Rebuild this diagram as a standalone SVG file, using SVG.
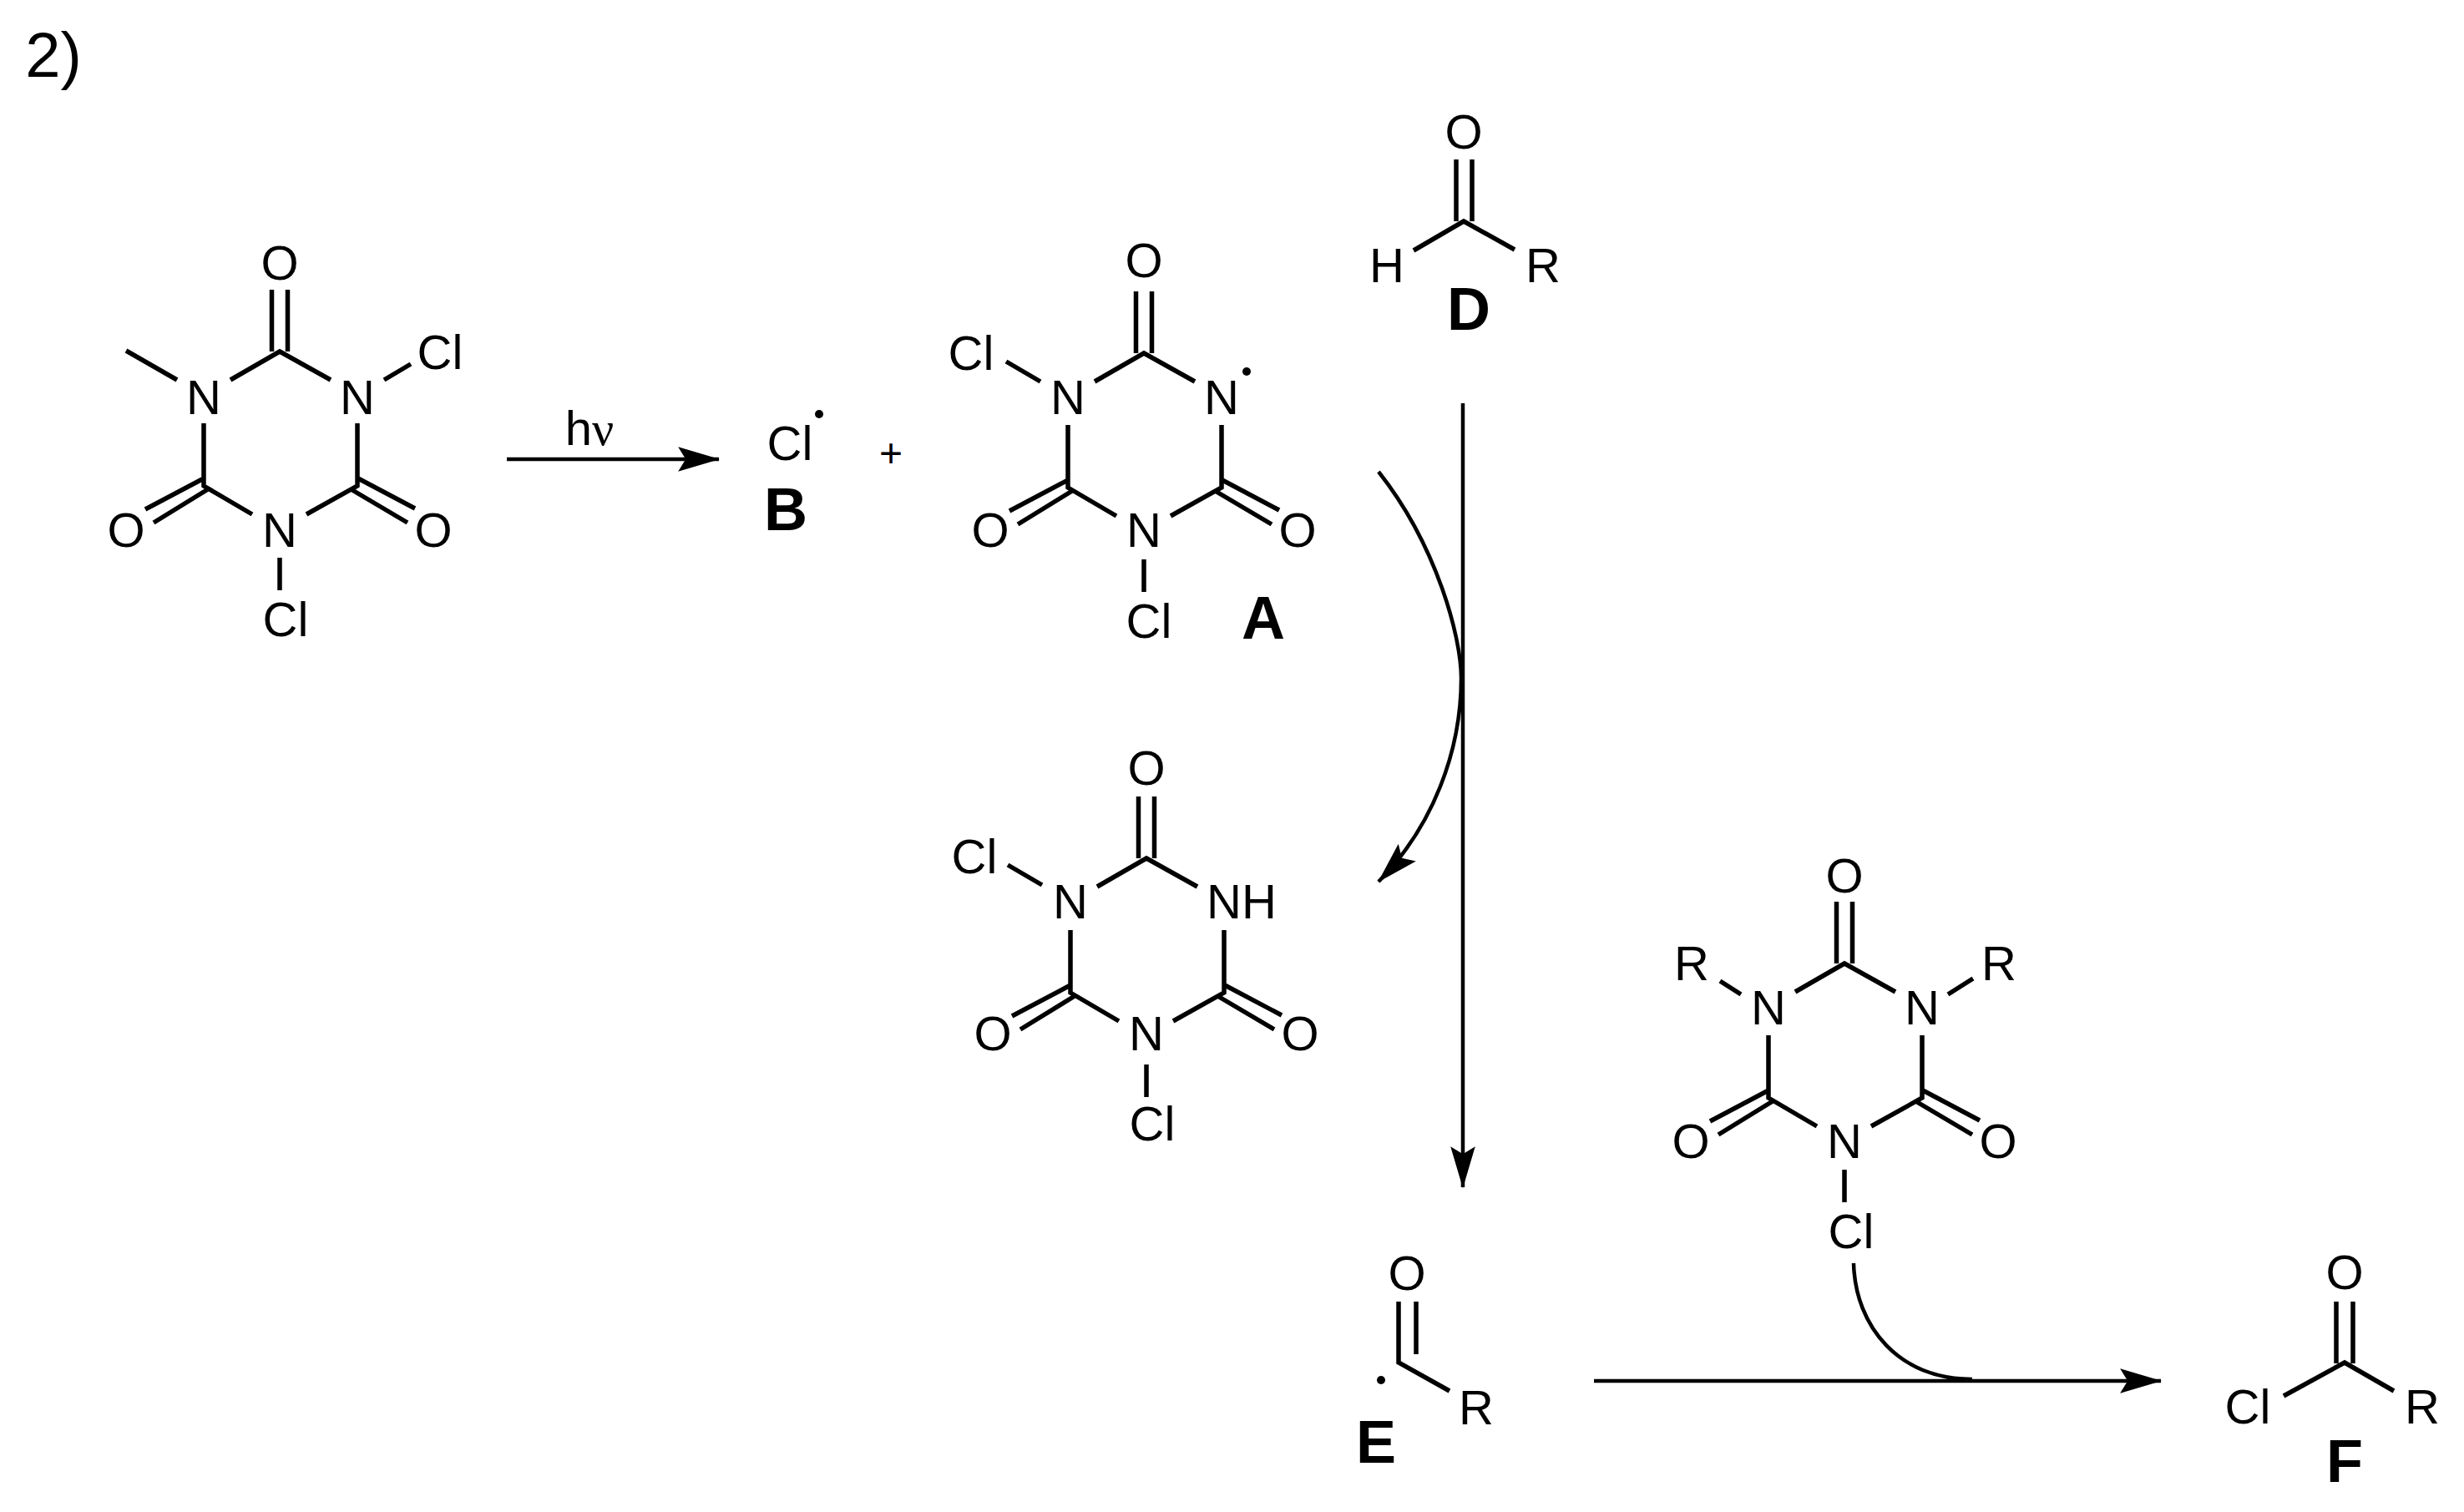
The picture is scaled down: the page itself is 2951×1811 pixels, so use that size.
<svg xmlns="http://www.w3.org/2000/svg" xmlns:xlink="http://www.w3.org/1999/xlink" width="2951" height="1811" viewBox="0 0 2951 1811">
<style>
text{font-family:"Liberation Sans",Arial,sans-serif;font-size:58px;fill:#000;text-anchor:middle}
.b{font-weight:bold;font-size:72px}
.bond{stroke:#000;stroke-width:5.5;fill:none}
.arr{stroke:#000;stroke-width:4.5;fill:none}
</style>
<defs>
<marker id="head" markerUnits="userSpaceOnUse" markerWidth="50" markerHeight="30" viewBox="0 0 44 26" refX="43" refY="13" orient="auto"><path d="M0,0 L44,13 L0,26 L8,13 Z" fill="#000"/></marker>
<g id="ring" class="bond">
<path d="M-59,34 L0,0 L61,34 M-91,86 V161 L-33,195 M93,86 V161 L32,195 M0,247 V286 M-9.500,-74 V0 M9.500,-74 V0 M-91,152 L-161,189 M-86,165 L-151,205 M92,151 L162,188 M87,166 L153,205"/>
</g>
</defs>
<rect width="2951" height="1811" fill="#fff"/>
<g id="connectors">
<path class="arr" d="M607,550 H861" marker-end="url(#head)"/>
<path class="arr" d="M1752,483 V1422" marker-end="url(#head)"/>
<path class="arr" d="M1651,565 C1722,655 1750,765 1750,812 C1750,900 1716,990 1651,1056" marker-end="url(#head)"/>
<path class="arr" d="M1909,1654 H2588" marker-end="url(#head)"/>
<path class="arr" d="M2220,1513 C2222,1590 2275,1652 2362,1652"/>
</g>
<g id="label-2"><text x="64" y="92" style="font-size:76px">2)</text></g>
<g id="label-hv"><text x="706" y="533" style="font-size:58px">h<tspan style="font-family:'Liberation Serif',serif">ν</tspan></text></g>
<g id="node-start" transform="translate(335,421)">
<use href="#ring"/>
<path class="bond" d="M-184,-1 L-123,34 M125,34 L157,15"/>
<text x="0" y="-86">O</text><text x="-91" y="75">N</text><text x="93" y="75">N</text><text x="0" y="234">N</text><text x="-184" y="234">O</text><text x="184" y="234">O</text><text x="192" y="21">Cl</text><text x="7" y="341">Cl</text>
</g>
<g id="node-B"><text x="946" y="551">Cl</text><circle cx="981" cy="496" r="5"/><text class="b" x="941" y="635">B</text></g>
<g id="node-plus"><text x="1067" y="559" style="font-size:48px">+</text></g>
<g id="node-A" transform="translate(1370,423)">
<use href="#ring"/>
<path class="bond" d="M-124,34 L-165,10"/>
<text x="0" y="-91">O</text><text x="-91" y="73">N</text><text x="93" y="73">N</text><circle cx="123" cy="22" r="5"/><text x="0" y="232">N</text><text x="-184" y="232">O</text><text x="184" y="232">O</text><text x="-207" y="20">Cl</text><text x="6" y="341">Cl</text>
<text class="b" x="143" y="342">A</text>
</g>
<g id="node-D">
<path class="bond" d="M1693,300 L1753,265 L1814,299 M1744,191 V265 M1763,191 V265"/>
<text x="1753" y="178">O</text><text x="1661" y="338">H</text><text x="1848" y="338">R</text><text class="b" x="1759" y="395">D</text>
</g>
<g id="node-NH" transform="translate(1373,1028)">
<use href="#ring"/>
<path class="bond" d="M-125,32 L-166,8"/>
<text x="0" y="-88">O</text><text x="-91" y="72">N</text><text x="114" y="72">NH</text><text x="0" y="230">N</text><text x="-184" y="230">O</text><text x="184" y="230">O</text><text x="-206" y="18">Cl</text><text x="7" y="338">Cl</text>
</g>
<g id="node-reagent" transform="translate(2209,1154)">
<use href="#ring"/>
<path class="bond" d="M-124,37 L-149,21 M124,37 L154,18"/>
<text x="0" y="-85">O</text><text x="-91" y="73">N</text><text x="93" y="73">N</text><text x="0" y="233">N</text><text x="-184" y="233">O</text><text x="184" y="233">O</text><text x="-183" y="20">R</text><text x="185" y="20">R</text><text x="8" y="341">Cl</text>
</g>
<g id="node-E">
<path class="bond" d="M1675,1559 V1632 L1736,1666 M1696,1559 V1622"/>
<text x="1685" y="1545">O</text><circle cx="1654" cy="1653" r="5"/><text x="1768" y="1706">R</text><text class="b" x="1648" y="1752">E</text>
</g>
<g id="node-F">
<path class="bond" d="M2735,1672 L2808,1632 L2867,1666 M2798,1559 V1633 M2818,1559 V1633"/>
<text x="2808" y="1544">O</text><text x="2692" y="1705">Cl</text><text x="2901" y="1705">R</text><text class="b" x="2808" y="1775">F</text>
</g>
</svg>
